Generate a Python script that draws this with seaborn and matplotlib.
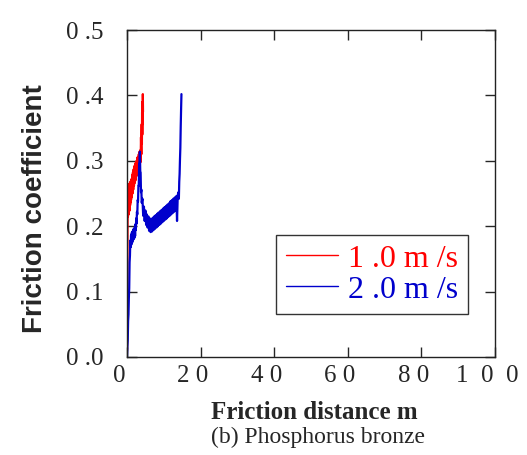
import numpy as np
import pandas as pd
import seaborn as sns
import matplotlib.pyplot as plt
from matplotlib.transforms import ScaledTranslation

# friction coefficient vs friction distance, phosphorus bronze
red_x = [0.00, 0.03, 0.06, 0.09, 0.12, 0.15, 0.18, 0.22, 0.26, 0.30, 0.35, 0.40, 0.45, 0.50,
         0.55, 0.60, 0.65, 0.70, 0.75, 0.80, 0.85, 0.90, 0.95, 1.00, 1.10, 1.20, 1.30, 1.40,
         1.50, 1.60, 1.70, 1.80, 1.90, 2.00, 2.10, 2.20, 2.30, 2.40, 2.50, 2.60, 2.70, 2.80,
         2.90, 3.00, 3.10, 3.20, 3.30, 3.40, 3.50, 3.60, 3.70, 3.80, 3.90, 4.00, 4.05, 4.10,
         4.15, 4.20, 4.25, 4.30, 4.35]
red_y = [0.010, 0.040, 0.090, 0.130, 0.170, 0.200, 0.220, 0.245, 0.215, 0.255, 0.222, 0.262,
         0.218, 0.250, 0.225, 0.265, 0.228, 0.256, 0.224, 0.262, 0.232, 0.268, 0.236, 0.262,
         0.240, 0.272, 0.244, 0.278, 0.250, 0.282, 0.256, 0.287, 0.262, 0.292, 0.266, 0.296,
         0.270, 0.293, 0.276, 0.300, 0.278, 0.305, 0.282, 0.306, 0.285, 0.310, 0.287, 0.314,
         0.292, 0.316, 0.298, 0.336, 0.310, 0.356, 0.326, 0.374, 0.340, 0.390, 0.356, 0.402,
         0.375]

blue_x = [0.0, 0.1, 0.2, 0.3, 0.4, 0.5, 0.6, 0.7, 0.8, 0.9, 1.0, 1.1, 1.2, 1.3, 1.4, 1.5,
          1.6, 1.7, 1.8, 1.9, 2.0, 2.1, 2.2, 2.3, 2.4, 2.5, 2.6, 2.7, 2.8, 2.9, 3.0, 3.1,
          3.2, 3.3, 3.4, 3.5, 3.6, 3.7, 3.8, 3.9, 4.0, 4.2, 4.4, 4.6, 4.8, 5.0, 5.2, 5.4,
          5.6, 5.8, 6.0, 6.2, 6.4, 6.6, 6.8, 7.0, 7.2, 7.4, 7.6, 7.8, 8.0, 8.2, 8.4, 8.6,
          8.8, 9.0, 9.2, 9.4, 9.6, 9.8, 10.0, 10.2, 10.4, 10.6, 10.8, 11.0, 11.2, 11.4,
          11.6, 11.8, 12.0, 12.2, 12.4, 12.6, 12.8, 13.0, 13.2, 13.4, 13.6, 13.8, 14.0,
          14.1, 14.2, 14.3, 14.4, 14.5, 14.6, 14.7, 14.8]
blue_y = [0.000, 0.015, 0.025, 0.055, 0.065, 0.090, 0.105, 0.145, 0.155, 0.178, 0.168, 0.186,
          0.172, 0.190, 0.175, 0.192, 0.178, 0.195, 0.180, 0.196, 0.182, 0.198, 0.185, 0.203,
          0.194, 0.212, 0.204, 0.222, 0.218, 0.240, 0.238, 0.262, 0.262, 0.296, 0.298, 0.314,
          0.284, 0.282, 0.252, 0.256, 0.236, 0.242, 0.216, 0.230, 0.208, 0.224, 0.202, 0.218,
          0.198, 0.215, 0.193, 0.212, 0.191, 0.211, 0.192, 0.213, 0.194, 0.215, 0.196, 0.217,
          0.198, 0.219, 0.200, 0.221, 0.202, 0.223, 0.204, 0.225, 0.206, 0.227, 0.208, 0.229,
          0.210, 0.231, 0.212, 0.233, 0.214, 0.235, 0.216, 0.238, 0.218, 0.240, 0.220, 0.242,
          0.222, 0.244, 0.224, 0.246, 0.208, 0.248, 0.252, 0.242, 0.268, 0.280, 0.302, 0.320,
          0.352, 0.378, 0.402]

x_ticks = [0, 20, 40, 60, 80, 100]
x_labels = ['0', '2 0', '4 0', '6 0', '8 0', '1  0  0']
y_ticks = [0.0, 0.1, 0.2, 0.3, 0.4, 0.5]
y_labels = ['0 .0', '0 .1', '0 .2', '0 .3', '0 .4', '0 .5']
legend_labels = ['1 .0 m /s', '2 .0 m /s']

sns.set_style('ticks')
plt.rcParams['font.family'] = ['Liberation Serif', 'DejaVu Serif']

fig = plt.figure(figsize=(5.27, 4.55), dpi=100)
ax = fig.add_axes([0.241, 0.2154, 0.698, 0.7186])

sns.lineplot(x=red_x, y=red_y, color='red', linewidth=1.6, sort=False, estimator=None,
             label=legend_labels[0], ax=ax)
sns.lineplot(x=blue_x, y=blue_y, color='#0000cc', linewidth=1.6, sort=False, estimator=None,
             label=legend_labels[1], ax=ax)

ax.set_xlim(0, 100)
ax.set_ylim(0, 0.5)
ax.set_xticks(x_ticks)
ax.set_xticklabels(x_labels, fontsize=18)
ax.set_yticks(y_ticks)
ax.set_yticklabels(y_labels, fontsize=18)
ax.tick_params(direction='in', length=7, width=1, top=True, right=True, pad=6)
ax.tick_params(axis='y', pad=17)
# x tick labels sit a little left of their ticks in the original
shift = ScaledTranslation(-8 / 100, 0, fig.dpi_scale_trans)
for lab in ax.get_xticklabels():
    lab.set_transform(lab.get_transform() + shift)
for s in ax.spines.values():
    s.set_linewidth(1)
    s.set_color('#222222')

ax.set_xlabel('Friction distance m', fontsize=18, fontweight='bold')
ax.xaxis.set_label_coords(0.51, -0.135)
ax.set_ylabel('Friction coefficient', fontsize=20, fontweight='bold', family='Liberation Sans')
ax.yaxis.set_label_coords(-0.215, 0.453)

leg = ax.legend(loc='lower left', bbox_to_anchor=(0.405, 0.131), fontsize=23,
                labelcolor='linecolor', frameon=True, fancybox=False, edgecolor='black',
                handlelength=1.65, handletextpad=0.3, borderpad=0.3, labelspacing=0.05,
                borderaxespad=0)
leg.get_frame().set_linewidth(1)
for h in leg.get_lines():
    h.set_linewidth(1)

fig.text(0.604, 0.026, '(b) Phosphorus bronze', fontsize=17, ha='center')

fig.savefig('out.png', dpi=100)
